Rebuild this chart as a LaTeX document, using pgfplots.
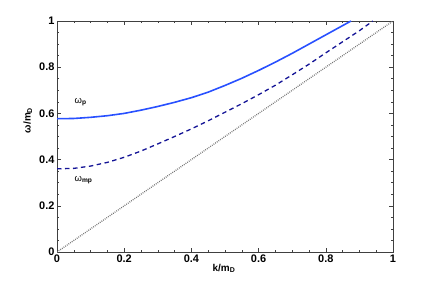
\documentclass[border=0pt]{standalone}
\usepackage{fontspec}
\setmainfont{Liberation Sans}
\usepackage{pgfplots}
\pgfplotsset{compat=1.18}
\definecolor{solidblue}{RGB}{40,80,255}
\definecolor{dashblue}{RGB}{20,20,150}
\begin{document}
\begin{tikzpicture}
\begin{axis}[
  scale only axis,
  width=336bp, height=231bp,
  xmin=0, xmax=1, ymin=0, ymax=1,
  xtick={0,0.2,0.4,0.6,0.8,1},
  ytick={0,0.2,0.4,0.6,0.8,1},
  xticklabels={0,0.2,0.4,0.6,0.8,1},
  yticklabels={0,0.2,0.4,0.6,0.8,1},
  minor tick num=3,
  tick align=inside,
  major tick length=4bp, minor tick length=2bp,
  axis line style={black!75, line width=0.6pt},
  every tick/.style={black!75, line width=0.5pt},
  tick label style={font=\fontsize{11}{13}\selectfont\bfseries},
  xticklabel style={yshift=1bp},
  yticklabel style={xshift=1bp},
  xlabel={\textbf{k/m\textsubscript{D}}},
  ylabel={\textbf{ω/m\textsubscript{D}}},
  xlabel style={font=\fontsize{10}{12}\selectfont, at={(axis description cs:0.497,-0.072)}, anchor=center},
  ylabel style={font=\fontsize{10}{12}\selectfont, at={(axis description cs:-0.087,0.57)}, anchor=center},
]
\addplot[solidblue, line width=1.6pt] coordinates {
(0,0.577) (0.05,0.578) (0.1,0.583) (0.15,0.590) (0.2,0.600) (0.25,0.614)
(0.3,0.630) (0.35,0.648) (0.4,0.668) (0.45,0.692) (0.5,0.721) (0.55,0.752)
(0.6,0.786) (0.65,0.822) (0.7,0.860) (0.75,0.900) (0.8,0.940) (0.85,0.980) (0.875,1.0)
};
\addplot[dashblue, line width=1.3pt, dash pattern=on 4.5bp off 3.5bp] coordinates {
(0,0.360) (0.05,0.362) (0.1,0.372) (0.15,0.388) (0.2,0.410) (0.25,0.437)
(0.3,0.468) (0.35,0.500) (0.4,0.533) (0.45,0.568) (0.5,0.605) (0.55,0.642)
(0.6,0.681) (0.65,0.722) (0.7,0.767) (0.75,0.813) (0.8,0.862) (0.85,0.910)
(0.9,0.958) (0.94,1.0)
};
\addplot[black!55, line width=1.3pt, dash pattern=on 0.8bp off 1.2bp] coordinates {(0,0) (1,1)};
\node[font=\fontsize{9.5}{11}\selectfont, anchor=base west] at (axis cs:0.042,0.645) {ω\textsubscript{\bfseries p}};
\node[font=\fontsize{9.5}{11}\selectfont, anchor=base west] at (axis cs:0.042,0.305) {ω\textsubscript{\bfseries mp}};
\end{axis}
\path (current axis.south west) ++(-57bp,-32bp) coordinate (bbA);
\path (current axis.north east) ++(41bp,21bp) coordinate (bbB);
\path[use as bounding box] (bbA) rectangle (bbB);
\end{tikzpicture}
\end{document}
